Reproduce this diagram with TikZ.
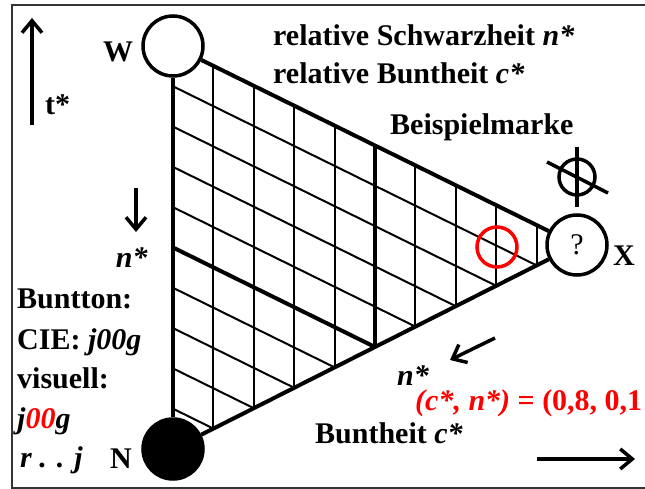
\documentclass[tikz,border=0pt]{standalone}
\usepackage{fontspec}
\setmainfont{Liberation Serif}
\usepackage{xcolor}
\usetikzlibrary{arrows.meta,calc}
\tikzset{
  pt/.style  ={circle, draw, line width=3.5pt, minimum size=60pt, inner sep=0pt},
  lbl/.style ={anchor=base west, inner sep=0pt, font=\fontsize{30}{35}\selectfont\bfseries},
  rim/.style ={line width=4pt},
  gridln/.style={line width=2pt},
  thk/.style ={line width=4pt},
  arr/.style ={-{Straight Barb[length=12pt,width=20pt]}, line width=3.5pt},
}

\begin{document}
\begin{tikzpicture}[x=1pt,y=-1pt]
  \useasboundingbox (0,0) rectangle (645,489);
  \draw[line width=2pt, black!80] (12,5) rectangle (665,488);
  % corners
  \node[pt] (W) at (173,46) {};
  \node[pt, fill=black] (N) at (173,449) {};
  \node[pt, font=\fontsize{30}{35}\selectfont] (X) at (577,245) {?};
  % grid of c* and n*
  \foreach \k in {1,...,9} {
    \pgfmathsetmacro\c{\k/10}
    \draw[gridln] ({173+404*\c},{46+199*\c}) -- ({173+404*\c},{449-204*\c});
    \draw[gridln] (173,{46+403*\c}) -- ({173+404*(1-\c)},{46+199*(1-\c)+403*\c});
  }
  \draw[thk] (375,146.5) -- (375,347);
  \draw[thk] (173,247.5) -- (375,347);
  \draw[rim] (W) -- (N);
  \draw[rim] (W) -- (X);
  \draw[rim] (N) -- (X);
  % example mark
  \node[circle, draw=red, line width=3.5pt, minimum size=40pt, inner sep=0pt] (probe) at (497,247) {};
  \node[circle, draw, line width=3.5pt, minimum size=36pt, inner sep=0pt] (mark) at (577,177) {};
  \draw[line width=3.5pt] ($(mark)+(0,-30)$) -- ($(mark)+(0,30)$);
  \draw[line width=3.5pt] ($(mark)+(-30,-15)$) -- ($(mark)+(31,16)$);
  % labels
  \node[lbl] (wl) at (103,62) {W};
  \node[lbl] (nl) at (110,468) {N};
  \node[lbl] (xl) at (613,265) {X};
  \node[lbl] (schw) at (273,46) {relative Schwarzheit \textit{n*}};
  \node[lbl] (bunt) at (273,84) {relative Buntheit \textit{c*}};
  \node[lbl] (bsp) at (390,135) {Beispielmarke};
  \node[lbl] (tl) at (45,115) {t*};
  \node[lbl, anchor=base east] (nleft) at (148,267) {\textit{n*}};
  \node[lbl] (bton) at (17,308) {Buntton:};
  \node[lbl] (cie) at (17,349) {CIE: \textit{j00g}};
  \node[lbl] (vis) at (17,388) {visuell:};
  \node[lbl] (vcode) at (17,428) {\textit{j\textcolor{red}{00}g}};
  \node[lbl] (range) at (20,467) {\textit{r . . j}};
  \node[lbl] (nbot) at (397,385) {\textit{n*}};
  \node[lbl, text=red] (val) at (415,410) {\textit{(c*, n*)} = (0,8, 0,1};
  \node[lbl] (cbot) at (315,443) {Buntheit \textit{c*}};
  % arrows
  \coordinate (tA) at (32,125); \coordinate (tB) at (32,18);
  \coordinate (dA) at (136,188); \coordinate (dB) at (136,232);
  \coordinate (sA) at (495,338); \coordinate (sB) at (450,360);
  \coordinate (rA) at (537,459); \coordinate (rB) at (635,459);
  \draw[arr] (tA) -- (tB);
  \draw[arr] (dA) -- (dB);
  \draw[arr] (sA) -- (sB);
  \draw[arr] (rA) -- (rB);
\end{tikzpicture}
\end{document}
